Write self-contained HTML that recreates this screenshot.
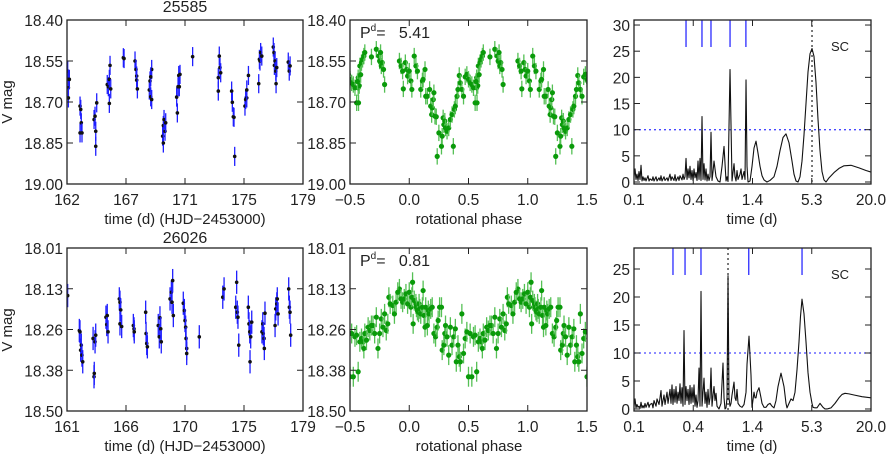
<!DOCTYPE html>
<html><head><meta charset="utf-8"><style>
html,body{margin:0;padding:0;background:#fff;}
svg{display:block;font-family:"Liberation Sans",sans-serif;}
text{fill:#222;}
</style></head><body>
<svg id="fig" width="886" height="454" viewBox="0 0 886 454" xmlns="http://www.w3.org/2000/svg">
<text x="185" y="12" font-size="16" text-anchor="middle">25585</text>
<text x="185" y="243" font-size="16" text-anchor="middle">26026</text>
<text transform="translate(12,102) rotate(-90)" font-size="15" text-anchor="middle">V mag</text>
<text transform="translate(12,330) rotate(-90)" font-size="15" text-anchor="middle">V mag</text>
<text x="185" y="224" font-size="15" text-anchor="middle">time (d) (HJD−2453000)</text>
<text x="469" y="224" font-size="15" text-anchor="middle">rotational phase</text>
<text x="752" y="224" font-size="15" text-anchor="middle">time (d)</text>
<text x="185" y="451" font-size="15" text-anchor="middle">time (d) (HJD−2453000)</text>
<text x="469" y="451" font-size="15" text-anchor="middle">rotational phase</text>
<text x="752" y="451" font-size="15" text-anchor="middle">time (d)</text>
<text x="360" y="38" font-size="16">P<tspan font-size="10" dy="-7">d</tspan><tspan dy="7">=&#160;&#160;&#160;5.41</tspan></text>
<text x="360" y="266" font-size="16">P<tspan font-size="10" dy="-7">d</tspan><tspan dy="7">=&#160;&#160;&#160;0.81</tspan></text>
<text x="831" y="51" font-size="13">SC</text>
<text x="831" y="279" font-size="13">SC</text>
</svg>
<script>
// ---- data: light curve 25585 ----
const lc1T=[162.05,162.10,162.10,162.10,162.17,162.94,162.99,162.94,163.03,163.08,163.95,164.02,164.07,164.07,164.14,164.90,164.98,165.05,165.10,165.05,165.15,166.06,166.11,166.90,166.97,167.02,167.02,167.07,167.93,167.98,168.03,168.10,168.10,168.03,168.89,168.94,168.94,168.99,169.06,169.11,169.90,169.95,170.00,170.05,170.09,170.14,171.05,172.90,172.90,172.97,173.02,173.07,173.86,173.91,173.98,174.03,174.08,174.82,174.87,174.95,174.95,175.07,175.81,175.86,175.90,175.95,176.03,176.86,176.91,176.94,176.99,177.04,177.06,177.11,177.94,178.01,178.07];
const lc1M=[18.587,18.617,18.648,18.685,18.617,18.715,18.727,18.813,18.776,18.813,18.764,18.752,18.807,18.862,18.703,18.636,18.644,18.617,18.566,18.705,18.652,18.538,18.541,18.550,18.581,18.605,18.620,18.652,18.656,18.623,18.681,18.691,18.581,18.608,18.825,18.850,18.786,18.764,18.807,18.776,18.682,18.740,18.644,18.603,18.644,18.599,18.534,18.660,18.611,18.532,18.574,18.593,18.660,18.701,18.754,18.756,18.899,18.715,18.691,18.685,18.656,18.603,18.633,18.544,18.550,18.519,18.532,18.499,18.519,18.566,18.550,18.587,18.633,18.574,18.554,18.587,18.568];
// ---- phased 25585 ----
const ph1P=[0.917,0.931,0.944,0.950,0.967,0.978,0.986,0.000,0.014,0.022,0.042,0.056,0.069,0.097,0.111,0.117,0.133,0.139,0.153,0.172,0.181,0.189,0.194,0.203,0.208,0.217,0.228,0.236,0.250,0.272,0.278,0.286,0.292,0.300,0.306,0.319,0.333,0.347,0.361,0.372,0.381,0.389,0.403,0.411,0.422,0.431,0.444,0.458,0.472,0.486,0.500,0.514,0.528,0.542,0.556,0.569,0.569,0.583,0.597,0.606,0.617,0.625,0.681,0.722,0.742,0.750,0.758,0.764,0.772,0.783,0.792,0.572,0.578,0.563,0.590];
const ph1M=[18.550,18.568,18.587,18.652,18.556,18.581,18.605,18.587,18.623,18.654,18.532,18.568,18.587,18.654,18.623,18.617,18.581,18.679,18.679,18.654,18.715,18.746,18.721,18.691,18.666,18.752,18.754,18.899,18.813,18.862,18.825,18.758,18.783,18.770,18.795,18.807,18.795,18.764,18.746,18.862,18.727,18.715,18.679,18.654,18.603,18.630,18.654,18.679,18.608,18.599,18.617,18.630,18.636,18.648,18.703,18.648,18.611,18.568,18.556,18.544,18.532,18.519,18.535,18.507,18.532,18.550,18.519,18.568,18.556,18.581,18.636,18.703,18.640,18.625,18.600];
// ---- light curve 26026 ----
const lc2T=[161.05,161.94,161.99,162.04,162.09,162.14,162.20,162.99,163.06,163.08,163.14,163.19,163.97,164.03,164.07,164.13,164.99,165.04,165.10,165.04,165.17,166.06,166.11,166.13,167.00,167.03,167.08,167.13,167.96,168.04,168.09,168.15,168.19,168.86,168.96,169.01,169.06,169.11,169.87,169.95,170.00,170.05,170.08,170.13,170.13,171.09,172.88,172.98,173.87,173.94,173.99,174.04,174.10,174.83,174.88,174.94,174.96,175.01,175.09,175.87,175.93,175.97,176.03,176.05,176.10,176.87,176.92,177.00,177.04,177.10,177.91,177.96,178.01,178.06];
const lc2M=[18.153,18.258,18.262,18.317,18.302,18.332,18.352,18.282,18.397,18.387,18.292,18.272,18.218,18.240,18.213,18.262,18.163,18.173,18.196,18.238,18.246,18.243,18.253,18.262,18.203,18.267,18.297,18.307,18.243,18.277,18.220,18.253,18.292,18.163,18.143,18.173,18.108,18.213,18.176,18.198,18.228,18.248,18.282,18.312,18.327,18.277,18.158,18.133,18.188,18.113,18.203,18.218,18.302,18.188,18.238,18.262,18.352,18.277,18.233,18.262,18.238,18.267,18.282,18.312,18.206,18.243,18.193,18.178,18.163,18.208,18.133,18.188,18.203,18.272];
// ---- phased 26026 ----
const ph2P=[0.917,0.931,0.944,0.958,0.972,0.986,0.000,0.014,0.022,0.028,0.033,0.042,0.056,0.061,0.069,0.078,0.083,0.089,0.097,0.111,0.117,0.125,0.133,0.139,0.153,0.161,0.167,0.181,0.194,0.208,0.222,0.236,0.244,0.256,0.272,0.278,0.292,0.300,0.306,0.319,0.333,0.347,0.361,0.375,0.389,0.397,0.411,0.422,0.431,0.444,0.458,0.472,0.486,0.500,0.514,0.528,0.542,0.556,0.569,0.583,0.597,0.611,0.617,0.625,0.639,0.653,0.667,0.681,0.694,0.708,0.722,0.736,0.750,0.764,0.778,0.792,0.806,0.819,0.828,0.839,0.861,0.875,0.889,0.903];
const ph2M=[18.133,18.163,18.173,18.163,18.148,18.178,18.143,18.188,18.158,18.113,18.238,18.168,18.178,18.188,18.198,18.203,18.178,18.193,18.208,18.188,18.138,18.213,18.248,18.188,18.243,18.198,18.208,18.193,18.188,18.267,18.277,18.248,18.228,18.188,18.188,18.317,18.302,18.267,18.243,18.277,18.332,18.248,18.302,18.277,18.253,18.352,18.302,18.337,18.352,18.208,18.327,18.282,18.262,18.397,18.267,18.397,18.277,18.272,18.382,18.292,18.282,18.292,18.312,18.267,18.287,18.248,18.258,18.243,18.243,18.267,18.218,18.312,18.267,18.223,18.248,18.208,18.258,18.238,18.158,18.178,18.183,18.208,18.173,18.143];
// ---- periodogram 25585 ----
const pg1P=[0.1,0.1023,0.1046,0.1069,0.1094,0.1118,0.1144,0.1170,0.1196,0.1223,0.1251,0.1279,0.1308,0.1368,0.1399,0.1430,0.1496,0.1529,0.1564,0.1636,0.1673,0.1749,0.1789,0.1829,0.1870,0.1956,0.2000,0.2092,0.2139,0.2237,0.2287,0.2339,0.2446,0.2501,0.2558,0.2675,0.2735,0.2797,0.2925,0.2991,0.3059,0.3128,0.3199,0.3271,0.3345,0.3421,0.3498,0.3577,0.3658,0.3741,0.3825,0.3912,0.4000,0.4091,0.4183,0.4278,0.4374,0.4473,0.4574,0.4678,0.4784,0.4892,0.5002,0.5116,0.5231,0.5349,0.5470,0.5594,0.5721,0.5850,0.5982,0.6117,0.6256,0.6542,0.6841,0.7154,0.7481,0.7823,0.8000,0.8181,0.8555,0.8947,0.9356,0.9567,0.9784,1.0005,1.0231,1.0699,1.0941,1.1188,1.1700,1.1965,1.2235,1.2512,1.2795,1.3380,1.3992,1.4632,1.5301,1.6001,1.6733,1.7499,1.829,1.955,2.091,2.287,2.446,2.616,2.797,2.991,3.198,3.420,3.576,3.740,3.911,4.090,4.277,4.472,4.677,4.891,5.115,5.348,5.593,5.848,6.116,6.395,6.688,6.993,7.313,7.823,8.747,9.78,10.94,12.79,15.29,17.88,20.0];
const pg1V=[1,2.5,0.5,1.5,0.3,2,0.5,3.2,0.2,1,0.3,0.8,0.2,1.2,0.2,0.6,0.3,1,0.2,1,0.2,0.8,0.3,1.2,0.2,1,0.3,0.8,0.2,1.5,0.3,1,0.3,1.4,0.2,1,0.3,1.2,0.4,1.5,0.5,1,4.5,0.5,2.5,0.8,3,0.5,2.2,0.3,2.5,0.8,1.8,0.3,4,0.5,4.5,0.3,12.5,0.5,3.5,0.4,2.5,0.2,1.5,0.3,1,9.5,0.3,2,4,2.5,1,0.2,0,3,6.8,0.2,1,0.1,21.5,0.2,3.5,1,0.2,2.2,0.5,1.5,2.5,0.5,2,0.5,19.5,3,0,0.2,3,6.5,7.8,5.5,3,1.2,0.4,0,0.3,1,3,6,8.5,9.2,7.5,4,1.5,0.2,0,1,4,9,15,21,24.5,25.5,24,19,12,6,2,0.4,0,0.8,1.8,2.6,3.1,3.2,2.7,2.2,1.9];
const pg1Marks=[0.320,0.457,0.559,0.856,1.22];
const pg1Best=5.35;
// ---- periodogram 26026 ----
const pg2P=[0.1,0.1023,0.1046,0.1069,0.1094,0.1118,0.1144,0.1170,0.1196,0.1223,0.1251,0.1279,0.1308,0.1368,0.1399,0.1430,0.1496,0.1529,0.1564,0.1636,0.1673,0.1749,0.1789,0.1829,0.1870,0.1956,0.2000,0.2092,0.2139,0.2237,0.2287,0.2339,0.2391,0.2446,0.2501,0.2558,0.2616,0.2675,0.2735,0.2797,0.2860,0.2925,0.2991,0.3059,0.3128,0.3199,0.3271,0.3345,0.3421,0.3498,0.3577,0.3658,0.3741,0.3825,0.3912,0.4000,0.4091,0.4183,0.4278,0.4374,0.4473,0.4574,0.4678,0.4784,0.4892,0.5002,0.5116,0.5231,0.5349,0.5470,0.5594,0.5721,0.5850,0.5982,0.6117,0.6256,0.6396,0.6688,0.6993,0.7313,0.7481,0.7647,0.7823,0.8000,0.8181,0.8363,0.8555,0.8747,0.8947,0.9356,0.9567,0.9784,1.0005,1.0231,1.0699,1.1188,1.1700,1.2235,1.2512,1.308,1.368,1.3992,1.4632,1.496,1.5301,1.564,1.636,1.710,1.7499,1.829,1.912,2.000,2.091,2.187,2.287,2.391,2.501,2.674,2.860,2.991,3.058,3.198,3.344,3.497,3.657,3.824,3.999,4.135,4.277,4.472,4.677,4.891,5.115,5.348,5.469,5.719,5.980,6.395,6.839,7.151,7.478,7.823,8.176,8.944,9.78,10.46,11.19,12.23,13.68,16.36,20.0];
const pg2V=[0.5,1.8,0.2,0.8,0.3,0.5,0.1,1.2,0.2,0.6,0.2,1,0.3,1.2,0.3,0.8,1,0.2,1.5,0.5,1.8,0.8,2,3.3,0.5,2.5,0.8,3,1,3.5,1,4.3,0.8,3.5,1.2,4,1,3,1.5,4.5,1,3.8,0.5,14,0.8,4,1.5,3.5,0.8,4.2,1,3.8,1.2,4.3,0.5,2.5,0.3,1.5,7.3,0.5,21,0.5,3,5.5,1,3,0.3,3.5,0.8,2,7.3,0.5,2.5,4,1.5,2.8,0.5,0,1,8.2,2,0,0.2,2,23.8,2,0.5,1,2.5,4.8,2,1.5,3.5,1,0.5,0.3,0.8,3,8,13,6,0.3,3,2,2,3,3.8,2,1,0.3,0.3,0.8,1,0.5,0.2,1.5,4,6.4,4,1,0.2,1,1.8,1.5,3,7,12,16.5,19.6,17,12,6.5,3,1,0.3,0.2,0.2,1,0.3,0,0,0.1,0.2,1,2,2.6,2.8,2.7,2.5,2.2,2];
const pg2Marks=[0.239,0.313,0.447,1.30,4.28];
const pg2Best=0.818;
// ---- tick labels ----
const t1Labels=["162","167","171","175","179"];
const t2Labels=["161","166","170","175","179"];
const m1Labels=["18.40","18.55","18.70","18.85","19.00"];
const m2Labels=["18.01","18.13","18.26","18.38","18.50"];
const phLabels=["−0.5","0.0","0.5","1.0","1.5"];
const pgXLabels=["0.1","0.4","1.4","5.3","20.0"];
const pg1YLabels=["0","5","10","15","20","25","30"];
const pg2YLabels=["0","5","10","15","20","25"];
const pgThreshold=10;

const NS='http://www.w3.org/2000/svg';
const svg=document.getElementById('fig');
function mk(tag,attrs,parent,name){
  const e=document.createElementNS(NS,tag);
  for(const k in attrs) e.setAttribute(k,attrs[k]);
  
  
  (parent||svg).appendChild(e);
  return e;
}
function lin(d0,d1,r0,r1){return v=>r0+(v-d0)/(d1-d0)*(r1-r0);}
function logsc(d0,d1,r0,r1){return v=>r0+Math.log(v/d0)/Math.log(d1/d0)*(r1-r0);}

function frame(g,x0,x1,y0,y1,xl,yl,name,yv){
  mk('rect',{x:x0,y:y0,width:x1-x0,height:y1-y0,fill:'none',stroke:'#222','stroke-width':1.3},g,name+'-frame');
  const n=xl.length;
  xl.forEach((s,i)=>{
    const x=x0+(x1-x0)*i/(n-1);
    if(i>0&&i<n-1){
      mk('line',{x1:x,x2:x,y1:y1,y2:y1-6,stroke:'#222'},g,name+'-x-tick');
      mk('line',{x1:x,x2:x,y1:y0,y2:y0+6,stroke:'#222'},g,name+'-x-tick-top');
    }
    const t=mk('text',{x:x,y:y1+21,'font-size':15.5,'text-anchor':'middle'},g,name+'-x-tick-label');
    t.textContent=s;
  });
  yl.forEach((s,i)=>{
    const y=yv?yv(i):y0+(y1-y0)*i/(yl.length-1);
    mk('line',{x1:x0,x2:x0+6,y1:y,y2:y,stroke:'#222'},g,name+'-y-tick');
    mk('line',{x1:x1,x2:x1-6,y1:y,y2:y,stroke:'#222'},g,name+'-y-tick-right');
    const t=mk('text',{x:x0-4,y:y+6,'font-size':15.5,'text-anchor':'end'},g,name+'-y-tick-label');
    t.textContent=s;
  });
}
function points(g,xs,ys,sx,sy,err,barCol,dotCol,name,r){
  xs.forEach((v,i)=>{
    const x=sx(v),y=sy(ys[i]),e=Math.abs(sy(ys[i]+err)-y);
    mk('line',{x1:x,x2:x,y1:y-e,y2:y+e,stroke:barCol,'stroke-width':1.3},g,name+'-error-bar');
    mk('circle',{cx:x,cy:y,r:r,fill:dotCol},g,name+'-point');
  });
}
function lightcurve(name,x0,x1,y0,y1,tmin,tmax,mmin,mmax,T,M,xl,yl){
  const g=mk('g',{},svg,name);
  const cp=mk('clipPath',{id:name+'-clip'},g,name+'-clip');
  mk('rect',{x:x0,y:y0,width:x1-x0,height:y1-y0},cp,name+'-clip-rect');
  const pg=mk('g',{'clip-path':'url(#'+name+'-clip)'},g,name+'-marks');
  const sx=lin(tmin,tmax,x0,x1), sy=lin(mmin,mmax,y0,y1);
  points(pg,T,M,sx,sy,0.035,'#1f1fff','#111',name,1.8);
  frame(g,x0,x1,y0,y1,xl,yl,name);
}
function phaseplot(name,x0,x1,y0,y1,mmin,mmax,P,M,xl,yl){
  const g=mk('g',{},svg,name);
  const cp=mk('clipPath',{id:name+'-clip'},g,name+'-clip');
  mk('rect',{x:x0,y:y0,width:x1-x0,height:y1-y0},cp,name+'-clip-rect');
  const pg=mk('g',{'clip-path':'url(#'+name+'-clip)'},g,name+'-marks');
  const sx=lin(-0.5,1.5,x0,x1), sy=lin(mmin,mmax,y0,y1);
  [-1,0,1].forEach(k=>{
    const xs=[],ys=[];
    P.forEach((p,i)=>{const q=p+k; if(q>=-0.52&&q<=1.52){xs.push(q);ys.push(M[i]);}});
    points(pg,xs,ys,sx,sy,0.03,'#55c055','#0a9a0a',name,2.6);
  });
  frame(g,x0,x1,y0,y1,xl,yl,name);
}
function periodogram(name,x0,x1,y0,y1,vmin,vmax,P,V,marks,best,yl){
  const g=mk('g',{},svg,name);
  const sx=logsc(0.1,20,x0,x1), sy=lin(vmin,vmax,y1,y0);
  mk('line',{x1:x0,x2:x1,y1:sy(pgThreshold),y2:sy(pgThreshold),stroke:'#4848ff','stroke-width':1.3,'stroke-dasharray':'2,3'},g,name+'-threshold-line');
  mk('line',{x1:sx(best),x2:sx(best),y1:y0,y2:y1,stroke:'#333','stroke-width':1.3,'stroke-dasharray':'2,3'},g,name+'-best-period-line');
  let d='';
  P.forEach((p,i)=>{d+=(i?'L':'M')+sx(p).toFixed(2)+','+sy(V[i]).toFixed(2);});
  mk('path',{d:d,fill:'none',stroke:'#111','stroke-width':1.1,'stroke-linejoin':'round'},g,name+'-power-curve');
  marks.forEach(p=>{
    mk('line',{x1:sx(p),x2:sx(p),y1:y0,y2:y0+27,stroke:'#3a3aff','stroke-width':1.4},g,name+'-alias-mark');
  });
  frame(g,x0,x1,y0,y1,pgXLabels,yl,name,i=>sy(i*5));
}
lightcurve('lightcurve-25585',67,303,20,184,162,179,18.40,19.00,lc1T,lc1M,t1Labels,m1Labels);
phaseplot('phase-25585',350,587,20,184,18.40,19.00,ph1P,ph1M,phLabels,m1Labels);
periodogram('periodogram-25585',634,871,20,184,-0.38,30.96,pg1P,pg1V,pg1Marks,pg1Best,pg1YLabels);
lightcurve('lightcurve-26026',67,303,248,411,161,179,18.01,18.50,lc2T,lc2M,t2Labels,m2Labels);
phaseplot('phase-26026',350,587,248,411,18.01,18.50,ph2P,ph2M,phLabels,m2Labels);
periodogram('periodogram-26026',634,871,248,411,-0.36,28.75,pg2P,pg2V,pg2Marks,pg2Best,pg2YLabels);
</script>
</body></html>
